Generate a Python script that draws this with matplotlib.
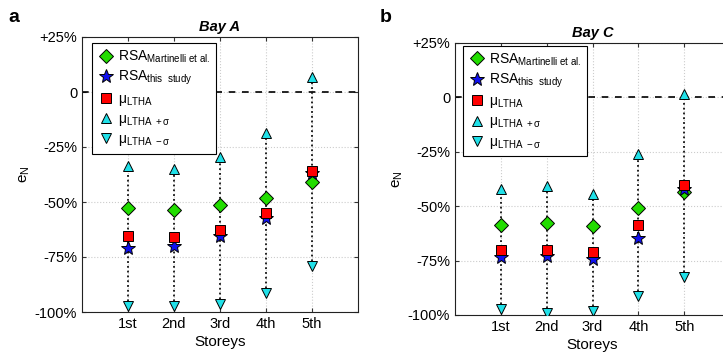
import numpy as np
import matplotlib
matplotlib.use('Agg')
import matplotlib.pyplot as plt

plt.rcParams['font.family'] = ['Liberation Sans', 'DejaVu Sans']
plt.rcParams['mathtext.fontset'] = 'custom'
plt.rcParams['mathtext.rm'] = 'Liberation Sans'
plt.rcParams['mathtext.it'] = 'Liberation Sans:italic'
plt.rcParams['mathtext.bf'] = 'Liberation Sans:bold'
plt.rcParams['mathtext.default'] = 'regular'

storeys = ['1st', '2nd', '3rd', '4th', '5th']
yticks = [25, 0, -25, -50, -75, -100]
ytick_labels = ['+25%', '0', '-25%', '-50%', '-75%', '-100%']

# Bay A (values in %)
a_mart = [-52.7, -53.5, -51.4, -48.2, -40.9]
a_this = [-70.8, -70.2, -65.6, -57.1, -36.7]
a_mu = [-65.5, -65.9, -62.9, -54.8, -35.9]
a_plus = [-33.6, -35.2, -29.5, -18.5, 7.0]
a_minus = [-97.3, -97.3, -96.2, -91.4, -79.2]

# Bay C (values in %)
c_mart = [-58.7, -57.6, -59.1, -51.0, -43.4]
c_this = [-73.5, -72.9, -74.1, -64.5, -41.9]
c_mu = [-69.9, -70.2, -71.2, -58.7, -40.3]
c_plus = [-41.9, -40.8, -44.5, -25.8, 1.4]
c_minus = [-97.4, -99.2, -98.0, -91.1, -82.4]

W, H = 723, 356
fig = plt.figure(figsize=(W / 100, H / 100), dpi=100)


def panel(rect, title, mart, this, mu, plus, minus, leg_anchor):
    ax = fig.add_axes(rect)
    x = np.arange(1, len(storeys) + 1)
    ax.axhline(0, color='k', ls=(0, (4, 4)), lw=1.2, zorder=1)
    ax.vlines(x, minus, plus, colors='#111111', linestyles=':', lw=1.3, zorder=2)
    ax.plot(x, mart, 'D', ms=7, mfc='#22dd00', mec='k', mew=0.7, ls='none',
            label=r'RSA$_{Martinelli\ et\ al.}$', zorder=3)
    ax.plot(x, this, '*', ms=10, mfc='#1010ee', mec='k', mew=0.7, ls='none',
            label=r'RSA$_{this\ \ study}$', zorder=3)
    ax.plot(x, mu, 's', ms=7, mfc='#ff0000', mec='k', mew=0.7, ls='none',
            label=r'$\mu_{LTHA}$', zorder=3)
    ax.plot(x, plus, '^', ms=7.5, mfc='#20e0e8', mec='k', mew=0.7, ls='none',
            label=r'$\mu_{LTHA\ +\sigma}$', zorder=3)
    ax.plot(x, minus, 'v', ms=7.5, mfc='#20e0e8', mec='k', mew=0.7, ls='none',
            label=r'$\mu_{LTHA\ -\sigma}$', zorder=3)
    ax.set_xlim(0, 6)
    ax.set_ylim(-100, 25)
    ax.set_xticks(x)
    ax.set_xticklabels(storeys, fontsize=10.5)
    ax.set_yticks(yticks)
    ax.set_yticklabels(ytick_labels, fontsize=10.5)
    ax.tick_params(direction='in', top=True, right=True, length=3, color='#333333')
    ax.grid(True, ls=':', color='#cccccc', lw=0.8)
    ax.set_axisbelow(True)
    for s in ax.spines.values():
        s.set_linewidth(0.8)
        s.set_color('#222222')
    ax.set_xlabel('Storeys', fontsize=11, labelpad=3)
    ax.set_ylabel('$e_N$', fontsize=11, labelpad=2)
    ax.set_title(title, fontsize=10.5, fontweight='bold', fontstyle='italic', pad=4)
    leg = ax.legend(loc='upper left', bbox_to_anchor=leg_anchor, fontsize=10,
                    frameon=True, fancybox=False, edgecolor='k', framealpha=1,
                    borderpad=0.4, labelspacing=0.3, handletextpad=0.3,
                    handlelength=1.2, borderaxespad=0)
    leg.get_frame().set_linewidth(0.8)
    return ax


ax1 = panel([82 / W, 1 - 312 / H, 276 / W, 275 / H], 'Bay A',
            a_mart, a_this, a_mu, a_plus, a_minus, (0.036, 0.978))
ax2 = panel([455 / W, 1 - 315 / H, 275 / W, 272 / H], 'Bay C',
            c_mart, c_this, c_mu, c_plus, c_minus, (0.029, 0.99))

fig.text(8 / W, 1 - 18 / H, 'a', fontsize=14, fontweight='bold', va='center')
fig.text(380 / W, 1 - 18 / H, 'b', fontsize=14, fontweight='bold', va='center')

fig.savefig('out.png', dpi=100)
